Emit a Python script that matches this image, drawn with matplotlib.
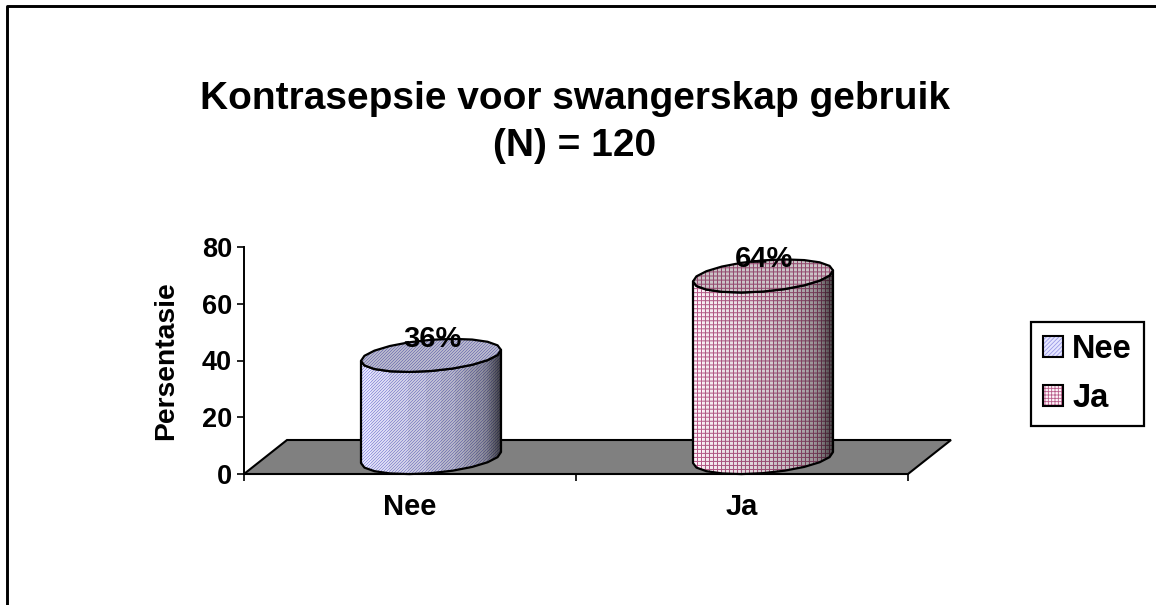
import numpy as np
import matplotlib
matplotlib.use("Agg")
import matplotlib.pyplot as plt
from matplotlib.lines import Line2D
from matplotlib.patches import Patch, Polygon
from matplotlib.legend_handler import HandlerTuple

categories = ["Nee", "Ja"]
values = [36, 64]
yticks = [0, 20, 40, 60, 80]
title = "Kontrasepsie voor swangerskap gebruik\n(N) = 120"
ylabel = "Persentasie"

W, H = 1156, 605
plt.rcParams["font.family"] = ["Liberation Sans", "DejaVu Sans"]
plt.rcParams["font.weight"] = "bold"
plt.rcParams["hatch.linewidth"] = 0.6

fig = plt.figure(figsize=(W / 100, H / 100), dpi=100, facecolor="white")
ax = fig.add_axes([244 / W, 1 - 474 / H, 664 / W, 227 / H])
ax.set_xlim(-0.5, 1.5)
ax.set_ylim(0, 80)

px_x = 2 / 664   # one pixel in x data units
px_y = 80 / 227  # one pixel in y data units


def texture(w, h, kind, shade):
    # pixel pattern of the old excel fill, one column shade per pixel column
    yy, xx = np.mgrid[0:h, 0:w]
    if kind == "diag":
        light = np.array([0.90, 0.90, 1.0])
        dark = np.array([0.62, 0.62, 0.90])
        mask = (xx + yy) % 3 == 0
    else:
        light = np.array([1.0, 0.96, 0.98])
        dark = np.array([0.72, 0.36, 0.54])
        mask = (xx % 4 == 0) | (yy % 4 == 0)
    img = np.where(mask[..., None], dark, light)
    return np.clip(img * shade[..., None], 0, 1)


def ellipse(cx, cy, t):
    a, b, s = 70 * px_x, 15.6 * px_y, 5.5 * px_y
    return np.column_stack([cx + a * np.cos(t), cy + b * np.sin(t) + s * np.cos(t)])


def cylinder(cat, val, kind):
    cx = cat + 21 * px_x
    base = 5.8
    top = base + val
    front = np.linspace(np.pi, 2 * np.pi, 11)
    whole = np.linspace(0, 2 * np.pi, 21)
    x0, x1 = cx - 70 * px_x, cx + 70 * px_x
    y0 = -8 * px_y  # image starts on a whole pixel so the pattern stays even

    # side
    outline = np.vstack([ellipse(cx, base, front), ellipse(cx, top, front)[::-1]])
    side = Polygon(outline, closed=True, facecolor="none", edgecolor="black", linewidth=1.6, zorder=4,
                   joinstyle="round", clip_on=False)
    ax.add_patch(side)
    w, h = 140, int(np.ceil((top + 8) / px_y))
    u = np.linspace(0, 1, w)
    col = np.interp(u, [0, 0.45, 0.7, 0.9, 1], [1.0, 0.86, 0.76, 0.58, 0.28])
    col = np.round(col * 24) / 24
    shade = np.tile(col, (h, 1))
    im = ax.imshow(texture(w, h, kind, shade), extent=[x0, x1, y0, y0 + h * px_y],
                   aspect="auto", interpolation="bilinear", zorder=3)
    im.set_clip_path(Polygon(outline, closed=True, transform=ax.transData))

    # top face
    lid = ellipse(cx, top, whole)
    rim = Polygon(lid, closed=True, facecolor="none", edgecolor="black", linewidth=1.6, zorder=6,
                  joinstyle="round", clip_on=False)
    ax.add_patch(rim)
    h2 = 40
    y2 = y0 + np.round((top - 20 * px_y - y0) / px_y) * px_y
    shade2 = np.full((h2, w), 0.8)
    im2 = ax.imshow(texture(w, h2, kind, shade2), extent=[x0, x1, y2, y2 + h2 * px_y],
                    aspect="auto", interpolation="bilinear", zorder=5)
    im2.set_clip_path(Polygon(lid, closed=True, transform=ax.transData))


# floor
dx, dy = 43 * px_x, 34 * px_y
floor = Polygon([(-0.5, 0), (1.5, 0), (1.5 + dx, dy), (-0.5 + dx, dy)], closed=True, facecolor="#808080",
                edgecolor="black", linewidth=1.5, zorder=2, clip_on=False)
ax.add_patch(floor)

kinds = ["diag", "grid"]
for i, val in enumerate(values):
    cylinder(i, val, kinds[i])
    ax.text(i + 22 * px_x, val + 11.6, f"{val}%", ha="center", va="center", fontsize=21, fontweight="bold", zorder=8)

ax.set_xlim(-0.5, 1.5)
ax.set_ylim(0, 80)

ax.spines["top"].set_visible(False)
ax.spines["right"].set_visible(False)
ax.spines["left"].set_linewidth(1.4)
ax.spines["bottom"].set_linewidth(1.4)
ax.spines["bottom"].set_zorder(7)
ax.set_yticks(yticks)
ax.set_xticks([-0.5, 0.5, 1.5])
ax.set_xticklabels([])
ax.set_xticks(range(len(categories)), minor=True)
ax.set_xticklabels(categories, minor=True)
ax.tick_params(axis="x", which="minor", length=0, pad=14, labelsize=21)
ax.tick_params(axis="x", which="major", length=5, width=1.2)
ax.tick_params(axis="y", length=5, width=1.2, pad=3.5, labelsize=19.5)
ax.set_ylabel(ylabel, fontsize=20.3, fontweight="bold", labelpad=16.5)

fig.suptitle(title, x=575 / W, y=1 - 81 / H, fontsize=28, fontweight="bold", linespacing=1.38, va="top")

# legend
swatches = [
    (Patch(facecolor="#e6e6ff", edgecolor="#9999e6", hatch="////////", linewidth=0),
     Patch(facecolor="none", edgecolor="black", linewidth=1.5)),
    (Patch(facecolor="#fff5fa", edgecolor="#b85c8a", hatch="+++++", linewidth=0),
     Patch(facecolor="none", edgecolor="black", linewidth=1.5)),
]
leg = ax.legend(swatches, categories, handler_map={tuple: HandlerTuple(ndivide=1, pad=0)},
                loc="upper left", bbox_to_anchor=(1031 / W, 1 - 322 / H), bbox_transform=fig.transFigure,
                fontsize=23.5, handlelength=0.61, handleheight=0.61, handletextpad=0.28, borderpad=0.37,
                labelspacing=0.55, borderaxespad=0, fancybox=False, framealpha=1, edgecolor="black")
leg.get_frame().set_linewidth(1.6)

# outer chart border, the right and bottom sides are cropped off
fig.add_artist(Line2D([7 / W, 7 / W, 1], [0, 1 - 6 / H, 1 - 6 / H], color="black", linewidth=2.1))

fig.savefig("out.png", dpi=100)
